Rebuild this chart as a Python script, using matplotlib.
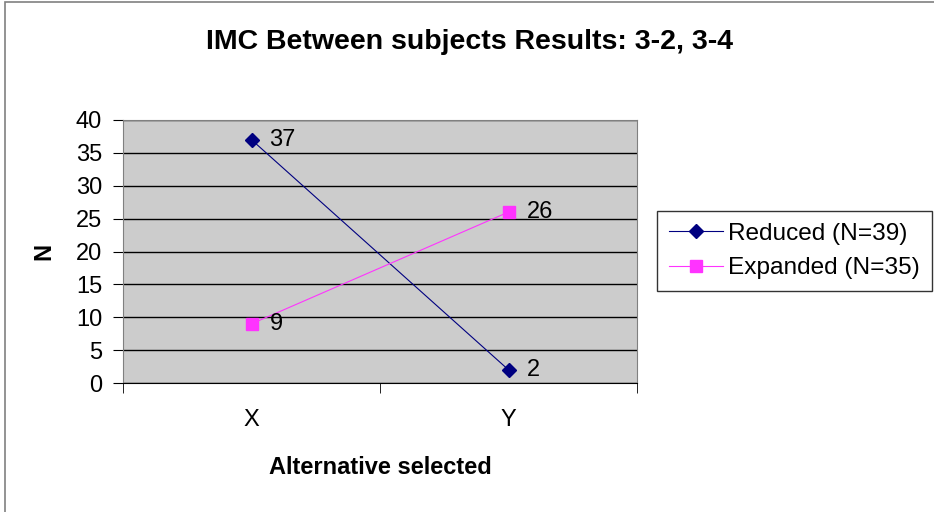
import matplotlib
matplotlib.use("Agg")
import matplotlib.pyplot as plt
from matplotlib.patches import Rectangle

categories = ["X", "Y"]
reduced = [37, 2]
expanded = [9, 26]
yticks = [0, 5, 10, 15, 20, 25, 30, 35, 40]

plt.rcParams['font.family'] = ['Liberation Sans', 'DejaVu Sans']

fig = plt.figure(figsize=(9.34, 5.12), dpi=100)
fig.patches.append(Rectangle((5 / 934, -0.1), 1.2, 1.1 - 2 / 512, transform=fig.transFigure,
                             fill=False, edgecolor='#808080', linewidth=1.2))

ax = fig.add_axes([123 / 934, 1 - 383 / 512, 514 / 934, 263 / 512])
ax.set_facecolor('#cccccc')
x = list(range(len(categories)))

ax.plot(x, reduced, color='#000080', marker='D', markersize=7, linewidth=0.8, label='Reduced (N=39)')
ax.plot(x, expanded, color='#ff33ff', marker='s', markersize=8, linewidth=0.8, label='Expanded (N=35)')

for xi, v in zip(x, reduced):
    ax.annotate(str(v), (xi, v), xytext=(13, 0), textcoords='offset points', va='center', fontsize=17)
for xi, v in zip(x, expanded):
    ax.annotate(str(v), (xi, v), xytext=(13, 0), textcoords='offset points', va='center', fontsize=17)

ax.set_xlim(-0.5, 1.5)
ax.set_ylim(0, 40)
ax.set_yticks(yticks)
ax.set_xticks(x)
ax.set_xticklabels(categories, fontsize=17)
ax.tick_params(axis='x', length=0, pad=19)
ax.set_xticks([-0.5, 0.5, 1.5], minor=True)
ax.tick_params(axis='x', which='minor', length=7, direction='out', color='black')
ax.tick_params(axis='y', labelsize=17, length=7, direction='out', color='black', pad=8)
ax.grid(axis='y', color='black', linewidth=1)
ax.set_axisbelow(True)
ax.spines['top'].set_color('#808080')
ax.spines['right'].set_color('#808080')
ax.spines['left'].set_color('#808080')
ax.spines['bottom'].set_color('black')

ax.set_xlabel('Alternative selected', fontsize=17, fontweight='bold', labelpad=18)
ax.set_ylabel('N', fontsize=17, fontweight='bold', labelpad=15)

fig.text(470 / 934, 1 - 42 / 512, 'IMC Between subjects Results: 3-2, 3-4', ha='center', va='center',
         fontsize=20.5, fontweight='bold')

leg = fig.legend(loc='center left', bbox_to_anchor=(657 / 934, 1 - 251 / 512), fontsize=17.6,
                 frameon=True, fancybox=False, edgecolor='black', handlelength=2.2,
                 borderpad=0.5, labelspacing=0.5, handletextpad=0.2, borderaxespad=0)
leg.get_frame().set_linewidth(1)

fig.savefig('out.png', dpi=100)
